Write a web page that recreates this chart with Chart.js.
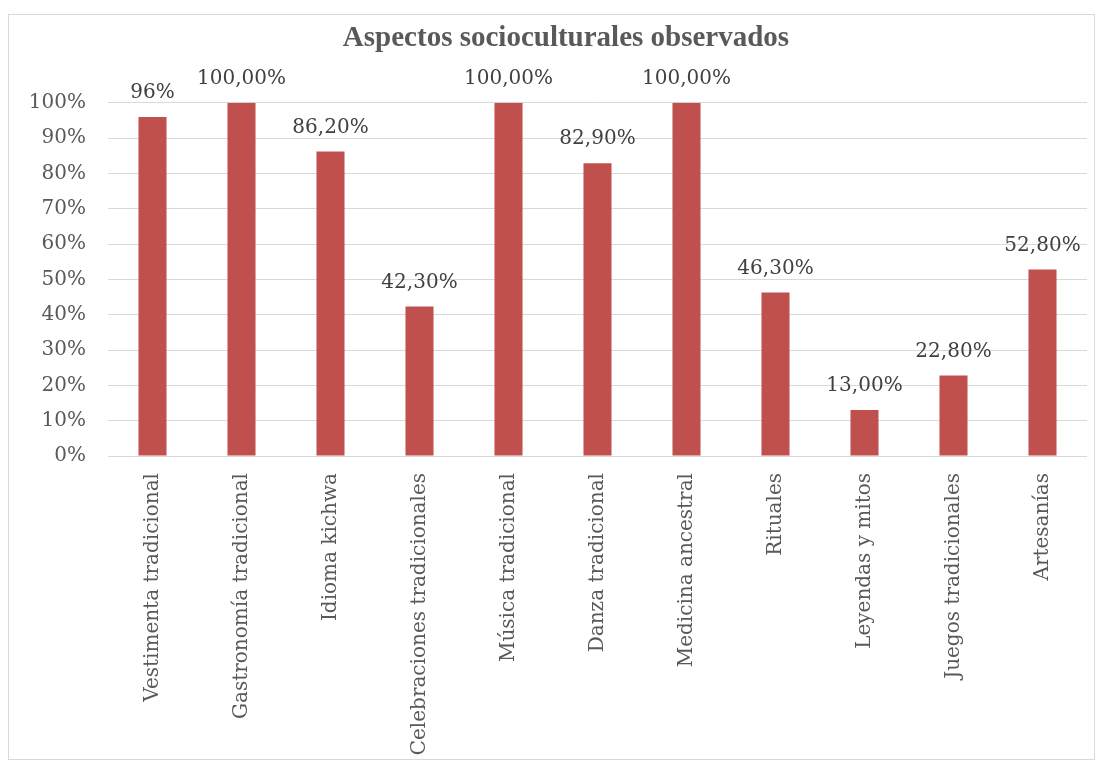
<!DOCTYPE html>
<html>
<head>
<meta charset="utf-8">
<script src="https://cdn.jsdelivr.net/npm/chart.js@4/dist/chart.umd.min.js"></script>
<style>
  html, body { margin: 0; padding: 0; background: #fff; overflow: hidden; }
  #frame {
    position: absolute;
    left: 8px;
    top: 14px;
    width: 1087px;
    height: 746px;
    box-sizing: border-box;
    border: 1px solid #d9d9d9;
  }
  #chart { position: absolute; left: 9px; top: 14px; }
</style>
</head>
<body>
<div id="frame"></div>
<canvas id="chart" width="1114" height="746"></canvas>
<script>
const categories = [
  'Vestimenta tradicional',
  'Gastronomía tradicional',
  'Idioma kichwa',
  'Celebraciones tradicionales',
  'Música tradicional',
  'Danza tradicional',
  'Medicina ancestral',
  'Rituales',
  'Leyendas y mitos',
  'Juegos tradicionales',
  'Artesanías',
];
const values = [96, 100, 86.2, 42.3, 100, 82.9, 100, 46.3, 13, 22.8, 52.8];
const valueLabels = ['96%', '100,00%', '86,20%', '42,30%', '100,00%', '82,90%', '100,00%', '46,30%', '13,00%', '22,80%', '52,80%'];
const yTicks = [0, 10, 20, 30, 40, 50, 60, 70, 80, 90, 100];

const SERIF = "'DejaVu Serif', serif";

// draws the value text above every bar
const barLabels = {
  id: 'barLabels',
  afterDatasetsDraw(chart) {
    const ctx = chart.ctx;
    const meta = chart.getDatasetMeta(0);
    ctx.save();
    ctx.font = `20px ${SERIF}`;
    ctx.fillStyle = '#404040';
    ctx.textAlign = 'center';
    ctx.textBaseline = 'middle';
    meta.data.forEach((bar, i) => {
      ctx.fillText(valueLabels[i], bar.x, bar.y - 24);
    });
    ctx.restore();
  },
};

new Chart(document.getElementById('chart'), {
  type: 'bar',
  data: {
    labels: categories,
    datasets: [{
      data: values,
      backgroundColor: '#c0504d',
      barPercentage: 0.315,
      categoryPercentage: 1,
    }],
  },
  options: {
    responsive: false,
    animation: false,
    layout: { padding: 0 },
    plugins: {
      legend: { display: false },
      tooltip: { enabled: false },
      title: {
        display: true,
        text: 'Aspectos socioculturales observados',
        color: '#595959',
        font: { family: "'Liberation Serif', serif", size: 29, weight: 'bold' },
        padding: { top: 7, bottom: 47 },
      },
    },
    scales: {
      y: {
        min: 0,
        max: 100,
        afterFit(scale) { scale.width = 99; },
        afterBuildTicks(scale) { scale.ticks = yTicks.map((v) => ({ value: v })); },
        ticks: {
          padding: 22,
          color: '#595959',
          font: { family: SERIF, size: 20 },
          callback: (v) => v + '%',
        },
        grid: { color: '#d9d9d9', lineWidth: 1, drawTicks: false },
        border: { display: false },
      },
      // empty right-hand spacer so the plot ends where the reference does
      spacer: {
        type: 'linear',
        position: 'right',
        afterFit(scale) { scale.width = 36; },
        ticks: { display: false },
        grid: { display: false, drawTicks: false },
        border: { display: false },
      },
      x: {
        afterFit(scale) { scale.height = 304; },
        grid: { display: false, drawTicks: false },
        border: { display: false },
        ticks: {
          autoSkip: false,
          minRotation: 90,
          maxRotation: 90,
          padding: 17,
          color: '#595959',
          font: { family: SERIF, size: 20 },
        },
      },
    },
  },
  plugins: [barLabels],
});
</script>
</body>
</html>
